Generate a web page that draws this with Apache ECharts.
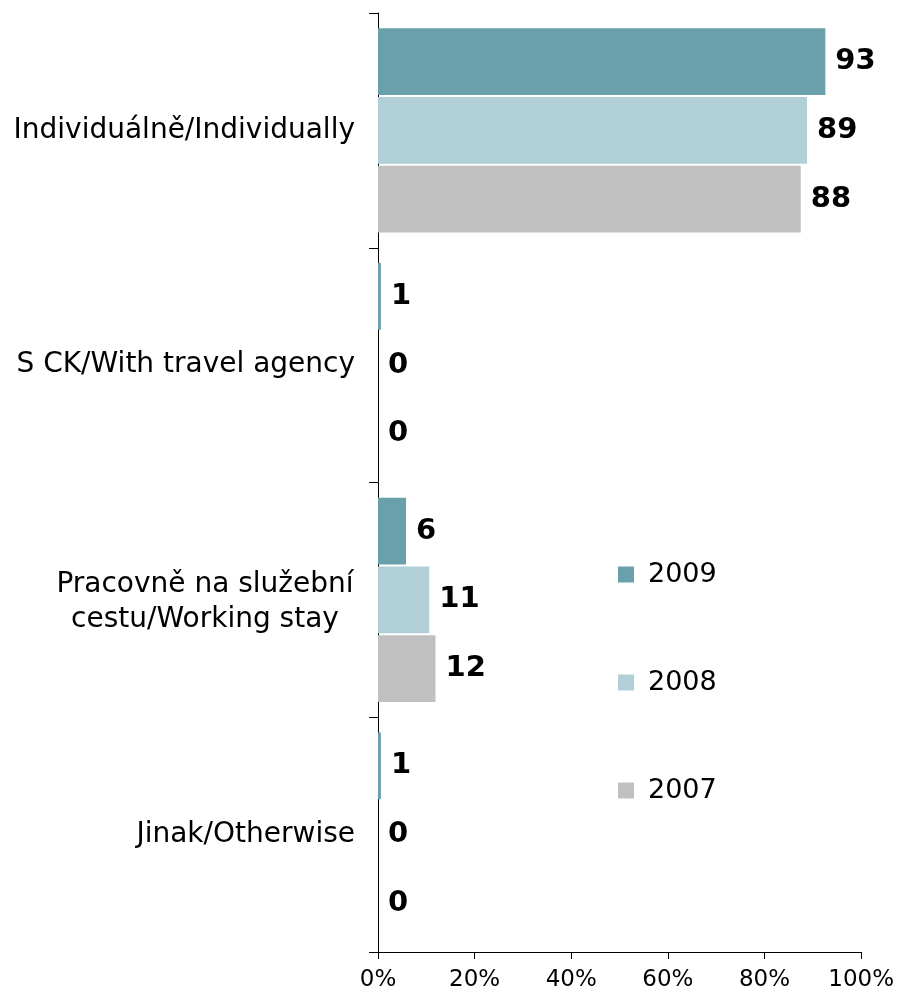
<!DOCTYPE html>
<html>
<head>
<meta charset="utf-8">
<script src="https://cdn.jsdelivr.net/npm/echarts@6/dist/echarts.min.js"></script>
<style>
  html, body { margin: 0; padding: 0; background: #fff; }
  #chart { width: 897px; height: 996px; }
</style>
</head>
<body>
<div id="chart"></div>
<script>
const categories = [
  'Individuálně/Individually',
  'S CK/With travel agency',
  'Pracovně na služební\ncestu/Working stay',
  'Jinak/Otherwise'
];
const years = ['2009', '2008', '2007'];
const values2009 = [92.6, 0.6, 5.8, 0.6];
const values2008 = [88.8, 0, 10.6, 0];
const values2007 = [87.5, 0, 11.9, 0];
const colors = ['#6a9fac', '#b1cfd7', '#c0c0c0'];

const chart = echarts.init(document.getElementById('chart'));

const labelOption = {
  show: true,
  position: 'right',
  distance: 10,
  color: '#000',
  fontFamily: 'DejaVu Sans',
  fontWeight: 'bold',
  fontSize: 29,
  formatter: function (p) { return Math.round(p.value); }
};

function makeSeries(name, data, color) {
  return {
    name: name,
    type: 'bar',
    data: data,
    barGap: '3%',
    barCategoryGap: '13%',
    itemStyle: { color: color },
    label: labelOption
  };
}

const option = {
  animation: false,
  backgroundColor: '#fff',
  textStyle: { fontFamily: 'DejaVu Sans' },
  grid: { left: 378, right: 32, top: 13, bottom: 44 },
  legend: {
    data: years,
    orient: 'vertical',
    left: 613,
    top: 556,
    icon: 'rect',
    itemWidth: 16,
    itemHeight: 16,
    itemGap: 81,
    textStyle: {
      fontFamily: 'DejaVu Sans',
      fontSize: 27,
      color: '#000',
      padding: [0, 0, 0, 9]
    }
  },
  xAxis: {
    type: 'value',
    min: 0,
    max: 100,
    interval: 20,
    splitLine: { show: false },
    axisLine: { show: true, lineStyle: { color: '#000', width: 1 } },
    axisTick: { show: true, length: 7, lineStyle: { color: '#000' } },
    axisLabel: {
      formatter: '{value}%',
      color: '#000',
      fontFamily: 'DejaVu Sans',
      fontSize: 23,
      margin: 17
    }
  },
  yAxis: {
    type: 'category',
    inverse: true,
    data: categories,
    axisLine: { show: true, lineStyle: { color: '#000', width: 1 } },
    axisTick: { show: true, length: 9, lineStyle: { color: '#000' } },
    axisLabel: {
      color: '#000',
      fontFamily: 'DejaVu Sans',
      fontSize: 28,
      lineHeight: 35,
      align: 'right',
      margin: 23,
      // two-line label is centred line by line, like the source
      formatter: function (v) {
        if (v.indexOf('\n') < 0) return v;
        return v.split('\n').map(function (s) { return '{c|' + s + '}'; }).join('\n');
      },
      rich: {
        c: {
          width: 300,
          align: 'center',
          fontSize: 28,
          lineHeight: 35,
          padding: [5, 0, 0, 0],
          fontFamily: 'DejaVu Sans',
          color: '#000'
        }
      }
    }
  },
  series: [
    makeSeries(years[0], values2009, colors[0]),
    makeSeries(years[1], values2008, colors[1]),
    makeSeries(years[2], values2007, colors[2])
  ]
};

chart.setOption(option);
</script>
</body>
</html>
